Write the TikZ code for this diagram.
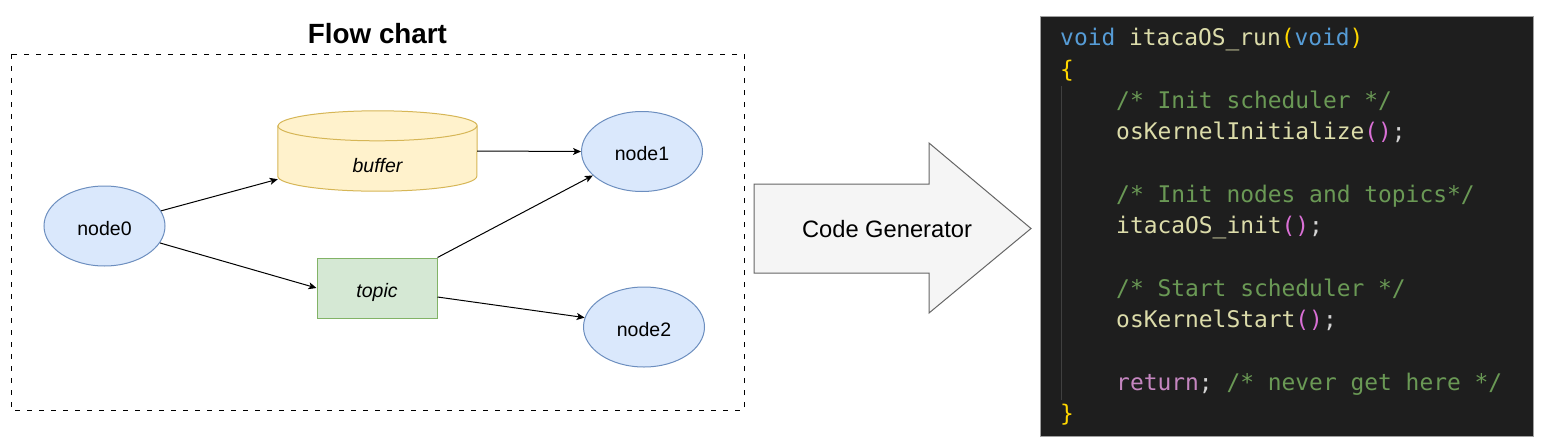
\documentclass[tikz,border=0pt]{standalone}
\usepackage{fontspec}
\setmainfont{Liberation Sans}
\newfontfamily\codefont{DejaVu Sans Mono}
\usetikzlibrary{arrows.meta,shapes.geometric}
\definecolor{ellfill}{HTML}{DAE8FC}
\definecolor{ellstroke}{HTML}{6C8EBF}
\definecolor{cylfill}{HTML}{FFF2CC}
\definecolor{cylstroke}{HTML}{D6B656}
\definecolor{recfill}{HTML}{D5E8D4}
\definecolor{recstroke}{HTML}{82B366}
\definecolor{arrfill}{HTML}{F5F5F5}
\definecolor{arrstroke}{HTML}{666666}
\definecolor{codebg}{HTML}{1E1E1E}
\definecolor{codeborder}{HTML}{A0A0A0}
\definecolor{guide}{HTML}{404040}
\definecolor{ckw}{HTML}{569CD6}
\definecolor{cfn}{HTML}{DCDCAA}
\definecolor{ccm}{HTML}{6A9955}
\definecolor{crt}{HTML}{C586C0}
\definecolor{cbra}{HTML}{FFD700}
\definecolor{cbrb}{HTML}{DA70D6}
\definecolor{cpl}{HTML}{D4D4D4}
\begin{document}
\begin{tikzpicture}[x=1pt,y=-1pt,
  lbl/.style={font=\fontsize{19.5}{23}\selectfont, text height=18pt, text depth=0pt, inner sep=0pt},
  ell/.style={lbl, ellipse, draw=ellstroke, fill=ellfill, line width=1pt, minimum width=121pt, minimum height=80pt},
  rec/.style={lbl, rectangle, draw=recstroke, fill=recfill, line width=1pt, minimum width=120pt, minimum height=60pt, font=\fontsize{19.5}{23}\selectfont\itshape},
  edge/.style={draw=black, line width=1pt, -{Stealth[length=8pt,width=7pt,inset=2pt]}},
  cyl/.style={draw=cylstroke, fill=cylfill, line width=1pt},
  codeline/.style={anchor=base west, inner sep=0pt, font=\codefont\fontsize{22.9}{27}\selectfont, text=cpl}
]
\useasboundingbox (0,0) rectangle (1544,447);
\fill[white] (0,0) rectangle (1544,447);

% title and frame
\node[anchor=base, inner sep=0pt, font=\fontsize{27.8}{32}\selectfont\bfseries] (title) at (377.5,43) {Flow chart};
\draw[black, line width=1pt, dash pattern=on 5pt off 7pt] (11,54) rectangle (744,410);

% buffer cylinder
\node[minimum width=199pt, minimum height=80pt, inner sep=0pt] (buffer) at (377.5,151) {};
\filldraw[cyl] ([yshift=-15pt]buffer.north west) -- ([yshift=15pt]buffer.south west)
  arc[start angle=180, end angle=360, x radius=99.5pt, y radius=15pt]
  -- ([yshift=-15pt]buffer.north east)
  arc[start angle=0, end angle=180, x radius=99.5pt, y radius=15pt] -- cycle;
\draw[cylstroke, line width=1pt] ([yshift=-15pt]buffer.north west)
  arc[start angle=180, end angle=360, x radius=99.5pt, y radius=15pt];
\node[lbl, font=\fontsize{19.5}{23}\selectfont\itshape] (bufferlabel) at (377.5,163.5) {buffer};

% nodes
\node[ell] (node0) at (104.5,226) {node0};
\node[ell] (node1) at (642,151.5) {node1};
\node[ell] (node2) at (644,327) {node2};
\node[rec] (topic) at (377,288) {topic};

% connectors
\draw[edge] (node0.15) -- ([yshift=12pt]buffer.south west);
\draw[edge] (node0.343) -- (topic.west);
\draw[edge] (buffer.east) -- (node1.west);
\draw[edge] (topic.north east) -- (node1.206);
\draw[edge] ([yshift=-9pt]topic.east) -- (node2.171);

% big arrow
\filldraw[draw=arrstroke, fill=arrfill, line width=1pt]
  (754,184) -- (929,184) -- (929,143) -- (1031,228.5) -- (929,313) -- (929,273) -- (754,273) -- cycle;
\node[anchor=base, inner sep=0pt, font=\fontsize{23.7}{28}\selectfont] (gen) at (887,237) {Code Generator};

% code panel
\filldraw[fill=codebg, draw=codeborder, line width=1pt] (1040.5,16) rectangle (1533,436);
\draw[guide, line width=1pt] (1061,86) -- (1061,400);
\node[codeline] (c1) at (1060,45.7) {\textcolor{ckw}{void} \textcolor{cfn}{itacaOS\_run}\textcolor{cbra}{(}\textcolor{ckw}{void}\textcolor{cbra}{)}};
\node[codeline] (c2) at (1060,77) {\textcolor{cbra}{\{}};
\node[codeline] (c3) at (1116,108.3) {\textcolor{ccm}{/* Init scheduler */}};
\node[codeline] (c4) at (1116,139.6) {\textcolor{cfn}{osKernelInitialize}\textcolor{cbrb}{()};};
\node[codeline] (c6) at (1116,202.2) {\textcolor{ccm}{/* Init nodes and topics*/}};
\node[codeline] (c7) at (1116,233.5) {\textcolor{cfn}{itacaOS\_init}\textcolor{cbrb}{()};};
\node[codeline] (c9) at (1116,296.1) {\textcolor{ccm}{/* Start scheduler */}};
\node[codeline] (c10) at (1116,327.4) {\textcolor{cfn}{osKernelStart}\textcolor{cbrb}{()};};
\node[codeline] (c12) at (1116,390) {\textcolor{crt}{return}; \textcolor{ccm}{/* never get here */}};
\node[codeline] (c13) at (1060,421.3) {\textcolor{cbra}{\}}};
\end{tikzpicture}
\end{document}
